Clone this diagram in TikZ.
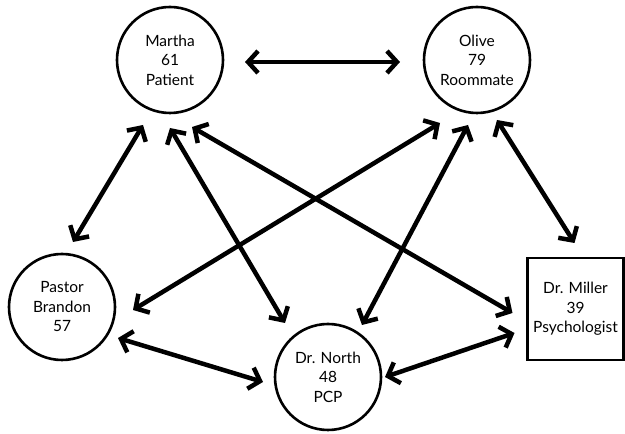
\documentclass[tikz,border=0pt]{standalone}
\usepackage{fontspec}
\setmainfont{Lato}
\usetikzlibrary{arrows.meta}

\tikzset{
  person/.style={circle,draw,line width=2.6pt,minimum size=106pt,inner sep=0pt,
    align=center,font=\fontsize{15.5}{19.5}\selectfont},
  carer/.style={rectangle,draw,line width=2.6pt,minimum width=96pt,minimum height=102pt,
    inner sep=0pt,align=center,font=\fontsize{15.5}{19.5}\selectfont},
  link/.style={line width=4.5pt,
    {Straight Barb[length=10pt,width=22pt]}-{Straight Barb[length=10pt,width=22pt]}}
}

\begin{document}
\begin{tikzpicture}[x=1pt,y=1pt]
\useasboundingbox (0,0) rectangle (625,434);

\node[person] (martha) at (170,374) {Martha\\61\\Patient};
\node[person] (olive) at (477,374) {Olive\\79\\Roommate};
\node[person] (pastor) at (62,127) {Pastor\\Brandon\\57};
\node[person] (north) at (328,57) {Dr. North\\48\\PCP};
\node[carer] (miller) at (575.5,125) {Dr. Miller\\39\\Psychologist};

\draw[link] ([shift={(75,-2)}]martha.center) -- ([shift={(-77,-2)}]olive.center);
\draw[link] ([shift={(-27,-65)}]martha.center) -- ([shift={(11,65)}]pastor.center);
\draw[link] ([shift={(0,-68)}]martha.center) -- ([shift={(-43,54)}]north.center);
\draw[link] ([shift={(22,-67)}]martha.center) -- ([shift={(-63,-4)}]miller.center);
\draw[link] ([shift={(-37,-63)}]olive.center) -- ([shift={(71,-3)}]pastor.center);
\draw[link] ([shift={(-9,-65)}]olive.center) -- ([shift={(34,52)}]north.center);
\draw[link] ([shift={(20,-60)}]olive.center) -- ([shift={(-1,66)}]miller.center);
\draw[link] ([shift={(56,-31)}]pastor.center) -- ([shift={(-65,-5)}]north.center);
\draw[link] ([shift={(57,0)}]north.center) -- ([shift={(-61,-24)}]miller.center);

\end{tikzpicture}
\end{document}
